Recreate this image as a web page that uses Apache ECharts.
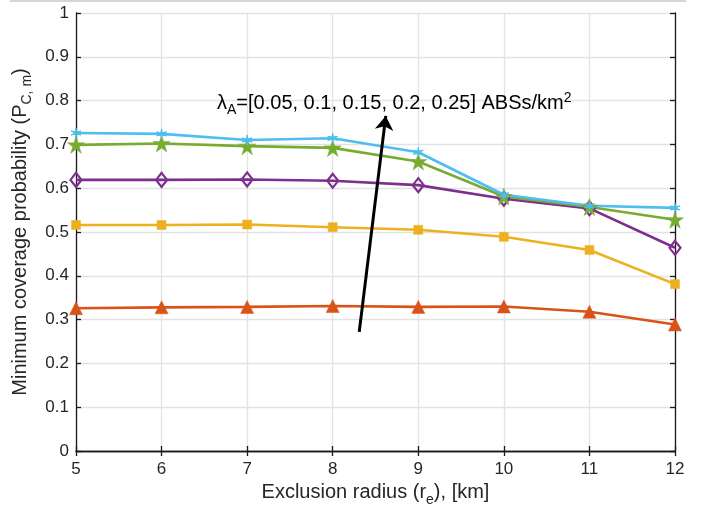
<!DOCTYPE html>
<html><head><meta charset="utf-8">
<script src="https://cdn.jsdelivr.net/npm/echarts@6/dist/echarts.min.js"></script>
<style>html,body{margin:0;padding:0;background:#fff}#c{width:710px;height:508px}</style>
</head><body><div id="c"></div>
<script>
const radius = [5, 6, 7, 8, 9, 10, 11, 12];
const lambdaLabels = ['0.05', '0.1', '0.15', '0.2', '0.25'];
const pc005 = [0.326, 0.328, 0.329, 0.331, 0.329, 0.330, 0.318, 0.289];
const pc010 = [0.516, 0.516, 0.517, 0.511, 0.505, 0.489, 0.459, 0.381];
const pc015 = [0.619, 0.619, 0.620, 0.617, 0.607, 0.576, 0.554, 0.464];
const pc020 = [0.699, 0.702, 0.696, 0.692, 0.661, 0.581, 0.557, 0.528];
const pc025 = [0.726, 0.724, 0.710, 0.714, 0.682, 0.585, 0.560, 0.555];
const arrowFrom = [8.31, 0.272];
const arrowTo = [8.62, 0.765];

const FONT = 'Liberation Sans';
const TXT = '#262626';
const STAR = 'path://M50,0 L61.2,34.5 L97.6,34.5 L68.2,55.9 L79.4,90.5 L50,69.1 L20.6,90.5 L31.8,55.9 L2.4,34.5 L38.8,34.5 Z';
const AST = 'path://M50,0 L56,38 L98,30 L60,50 L98,70 L56,62 L50,100 L44,62 L2,70 L40,50 L2,30 L44,38 Z';

function mk(vals, name, color, symbol, size, fill, bw) {
  return {
    type: 'line', name: name,
    data: radius.map((r, i) => [r, vals[i]]),
    symbol: symbol, symbolSize: size, showAllSymbol: true,
    lineStyle: { color: color, width: 2.6 },
    itemStyle: { color: fill, borderColor: color, borderWidth: bw },
    z: 3
  };
}

const series = [
  mk(pc005, lambdaLabels[0], '#D95319', 'triangle', 13, '#D95319', 0.5),
  mk(pc010, lambdaLabels[1], '#EDB120', 'rect', 9, '#EDB120', 0.5),
  mk(pc015, lambdaLabels[2], '#7E2F8E', 'diamond', [11, 14], 'rgba(0,0,0,0)', 2.2),
  mk(pc020, lambdaLabels[3], '#77AC30', STAR, 17, '#77AC30', 0.5),
  mk(pc025, lambdaLabels[4], '#4DBEEE', AST, 10, '#4DBEEE', 1)
];
series[0].markLine = {
  silent: true, animation: false,
  symbol: ['none', 'arrow'], symbolSize: 14,
  lineStyle: { color: '#000', width: 3, type: 'solid' },
  label: { show: false },
  data: [[{ coord: arrowFrom }, { coord: arrowTo }]]
};

const chart = echarts.init(document.getElementById('c'), null, { renderer: 'canvas' });
const axisLineStyle = { color: '#1a1a1a', width: 1.3 };
chart.setOption({
  animation: false,
  backgroundColor: '#fff',
  textStyle: { fontFamily: FONT },
  grid: { left: 76, right: 35, top: 13, bottom: 57, containLabel: false, outerBoundsMode: 'none' },
  xAxis: [{
    type: 'value', min: 5, max: 12, interval: 1,
    axisLine: { show: true, lineStyle: axisLineStyle },
    axisTick: { show: true, inside: true, length: 5, lineStyle: axisLineStyle },
    axisLabel: { color: TXT, fontSize: 17, fontFamily: FONT, margin: 10 },
    splitLine: { show: true, lineStyle: { color: '#e3e3e3', width: 1.3 } },
    name: '{n|Exclusion radius (r}{s|e}{n|), [km]}',
    nameLocation: 'middle', nameGap: 27,
    nameTextStyle: {
      rich: {
        n: { fontSize: 20, color: TXT, fontFamily: FONT },
        s: { fontSize: 14, color: TXT, fontFamily: FONT, padding: [14, 0, 0, 0] }
      }
    }
  }, {
    type: 'value', min: 5, max: 12, interval: 1, position: 'top',
    axisLine: { show: true, lineStyle: axisLineStyle },
    axisTick: { show: true, inside: true, length: 5, lineStyle: axisLineStyle },
    axisLabel: { show: false }, splitLine: { show: false }
  }],
  yAxis: [{
    type: 'value', min: 0, max: 1, interval: 0.1,
    axisLine: { show: true, lineStyle: axisLineStyle },
    axisTick: { show: true, inside: true, length: 5, lineStyle: axisLineStyle },
    axisLabel: { color: TXT, fontSize: 17, fontFamily: FONT, margin: 7,
      formatter: v => (Math.round(v * 10) / 10).toString() },
    splitLine: { show: true, lineStyle: { color: '#e3e3e3', width: 1.3 } },
    name: '{n|Minimum coverage probability (P}{s|C, m}{n|)}',
    nameLocation: 'middle', nameGap: 42, nameRotate: 90,
    nameTextStyle: {
      rich: {
        n: { fontSize: 20, color: TXT, fontFamily: FONT },
        s: { fontSize: 14, color: TXT, fontFamily: FONT, padding: [14, 0, 0, 0] }
      }
    }
  }, {
    type: 'value', min: 0, max: 1, interval: 0.1, position: 'right',
    axisLine: { show: true, lineStyle: axisLineStyle },
    axisTick: { show: true, inside: true, length: 5, lineStyle: axisLineStyle },
    axisLabel: { show: false }, splitLine: { show: false }
  }],
  graphic: [
    { type: 'line', shape: { x1: 10, y1: 1, x2: 686, y2: 1 },
      style: { stroke: '#d6d6d6', lineWidth: 2 }, silent: true },
    { type: 'text', left: 217, top: 91, z: 10,
      style: {
        text: '{n|λ}{s|A}{n|=[' + lambdaLabels.join(', ') + '] ABSs/km}{p|2}',
        rich: {
          n: { fontSize: 20, fill: '#000', fontFamily: FONT },
          s: { fontSize: 14, fill: '#000', fontFamily: FONT, padding: [13, 0, 0, 0] },
          p: { fontSize: 14, fill: '#000', fontFamily: FONT, padding: [0, 0, 11, 0] }
        }
      } }
  ],
  series: series
});
</script></body></html>
